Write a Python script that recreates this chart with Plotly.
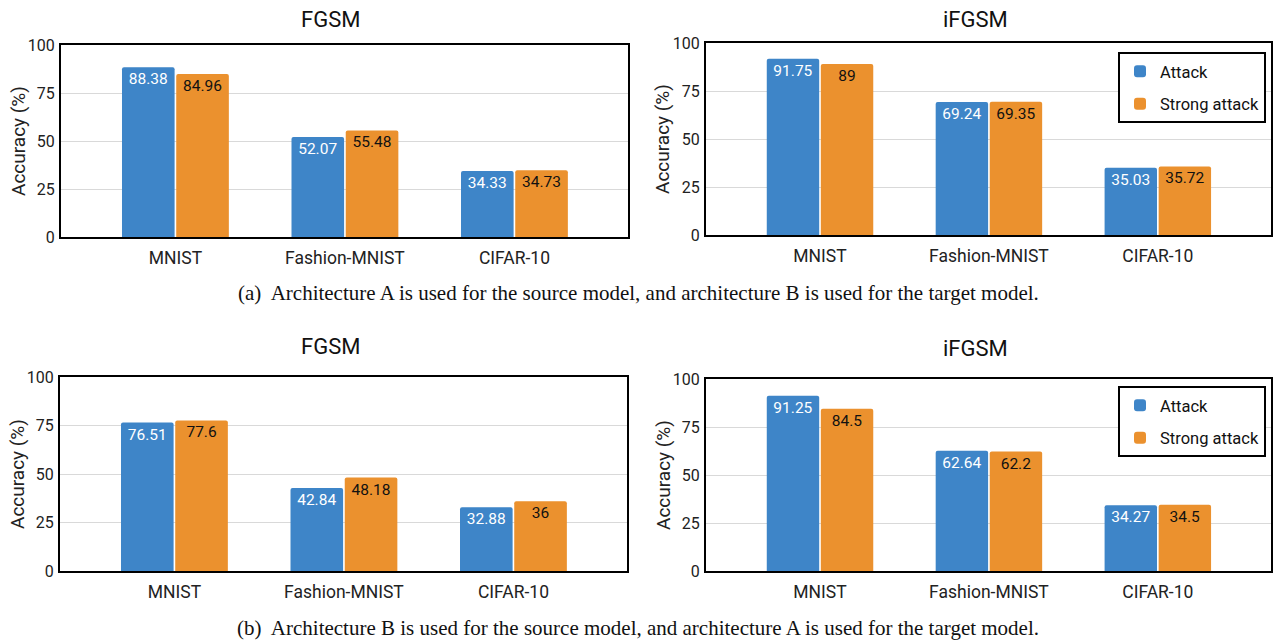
import plotly.graph_objects as go

categories = ["MNIST", "Fashion-MNIST", "CIFAR-10"]
series_names = ["Attack", "Strong attack"]

a_fgsm_attack = [88.38, 52.07, 34.33]
a_fgsm_strong = [84.96, 55.48, 34.73]
a_ifgsm_attack = [91.75, 69.24, 35.03]
a_ifgsm_strong = [89, 69.35, 35.72]
b_fgsm_attack = [76.51, 42.84, 32.88]
b_fgsm_strong = [77.6, 48.18, 36]
b_ifgsm_attack = [91.25, 62.64, 34.27]
b_ifgsm_strong = [84.5, 62.2, 34.5]

panel_titles = ["FGSM", "iFGSM", "FGSM", "iFGSM"]
y_title = "Accuracy (%)"
y_ticks = [0, 25, 50, 75, 100]
captions = [
    "(a)  Architecture A is used for the source model, and architecture B is used for the target model.",
    "(b)  Architecture B is used for the source model, and architecture A is used for the target model.",
]

W, H = 1273, 641
BLUE = "#3e85c8"
ORANGE = "#eb912e"
FONT = "Roboto"

# pixel boxes: (left, right, top, bottom)
boxes = [(61, 628, 45, 237), (706, 1271, 43, 235), (60, 627, 377, 571), (706, 1271, 379, 571)]
panels = [
    (a_fgsm_attack, a_fgsm_strong, None),
    (a_ifgsm_attack, a_ifgsm_strong, "legend"),
    (b_fgsm_attack, b_fgsm_strong, None),
    (b_ifgsm_attack, b_ifgsm_strong, "legend2"),
]

fig = go.Figure()
layout = {}
annotations = []
for i, ((l, r, t, b), (att, strg, leg)) in enumerate(zip(boxes, panels)):
    n = "" if i == 0 else str(i + 1)
    xa, ya = "x" + n, "y" + n
    for name, vals, col, tcol, grp in [(series_names[0], att, BLUE, "white", "g1"),
                                       (series_names[1], strg, ORANGE, "#111111", "g2")]:
        fig.add_trace(go.Bar(
            x=categories, y=vals, name=name, xaxis=xa, yaxis=ya,
            marker=dict(color=col, line=dict(width=0)),
            text=vals, texttemplate="%{y}", textposition="inside",
            insidetextanchor="end", textangle=0,
            textfont=dict(family=FONT, size=15.5, color=tcol),
            showlegend=leg is not None, legend=leg if leg else "legend",
            legendgroup=grp + str(i),
        ))
    layout["xaxis" + n] = dict(
        domain=[l / W, r / W], anchor=ya, range=[-0.675, 2.67],
        showline=True, mirror=True, linecolor="black", linewidth=2,
        showgrid=False, ticks="", ticklabelstandoff=4,
        tickfont=dict(family=FONT, size=17.5, color="#222222"),
    )
    layout["yaxis" + n] = dict(
        domain=[1 - b / H, 1 - t / H], anchor=xa, range=[0, 100],
        tickvals=y_ticks, showline=True, mirror=True, linecolor="black", linewidth=2,
        showgrid=True, gridcolor="#d9d9d9", gridwidth=1, ticks="", ticklabelstandoff=1,
        zeroline=False,
        tickfont=dict(family=FONT, size=16, color="#222222"),
    )
    annotations.append(dict(text=y_title, x=(l - 43) / W, y=1 - (t + b) / 2 / H,
                            xref="paper", yref="paper", showarrow=False, textangle=-90,
                            xanchor="center", yanchor="middle",
                            font=dict(family=FONT, size=19, color="#222222")))

title_pos = [(330, 20), (975, 20), (330, 346), (975, 348)]
for txt, (x, y) in zip(panel_titles, title_pos):
    annotations.append(dict(text=txt, x=x / W, y=1 - y / H, xref="paper", yref="paper",
                            showarrow=False, xanchor="center", yanchor="middle",
                            font=dict(family=FONT, size=22, color="#111111")))
for txt, y in zip(captions, [293, 628]):
    annotations.append(dict(text=txt, x=638 / W, y=1 - y / H, xref="paper", yref="paper",
                            showarrow=False, xanchor="center", yanchor="middle",
                            font=dict(family="Liberation Serif", size=21, color="#111111")))

legend_style = dict(xanchor="left", yanchor="top", bgcolor="white", bordercolor="black",
                    borderwidth=2, font=dict(family=FONT, size=16.5, color="#111111"),
                    traceorder="grouped", tracegroupgap=8, itemwidth=30)
fig.update_layout(
    width=W, height=H, margin=dict(l=0, r=0, t=0, b=0, autoexpand=False),
    paper_bgcolor="white", plot_bgcolor="white",
    barmode="group", bargap=0.36, bargroupgap=0.03, barcornerradius=2,
    annotations=annotations,
    legend=dict(x=1118 / W, y=1 - 52 / H, **legend_style),
    legend2=dict(x=1118 / W, y=1 - 386 / H, **legend_style),
    **layout,
)
fig.write_html("out.html", config={"displayModeBar": False},
               post_script="document.body.style.margin='0';document.body.style.overflow='hidden';")
